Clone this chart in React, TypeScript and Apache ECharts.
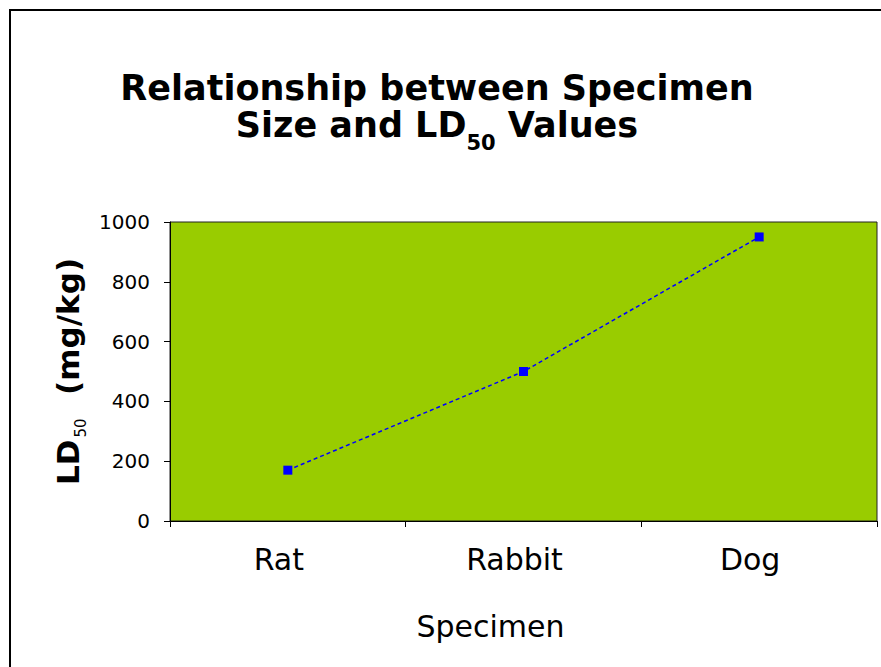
import React, { useEffect, useRef } from "react";
import * as echarts from "echarts";

const categories = ["Rat", "Rabbit", "Dog"];
const ld50Values = [170, 500, 950];
const yTicks = { min: 0, max: 1000, interval: 200 };

const FONT = "'DejaVu Sans', Verdana, sans-serif";

export default function App() {
  const ref = useRef<HTMLDivElement>(null);
  useEffect(() => {
    if (!ref.current) return;
    const chart = echarts.init(ref.current, undefined, { renderer: "svg" });
    chart.setOption({
      animation: false,
      backgroundColor: "#ffffff",
      graphic: [
        {
          type: "rect",
          z: -10,
          silent: true,
          shape: { x: 10, y: 10, width: 900, height: 700 },
          style: { fill: "#ffffff", stroke: "#000000", lineWidth: 2 },
        },
        {
          type: "text",
          x: 437,
          y: 70,
          style: {
            text: "{m|Relationship between Specimen}\n{m|Size and LD}{sub|50}{m| Values}",
            align: "center",
            verticalAlign: "top",
            fill: "#000000",
            fontFamily: FONT,
            fontWeight: "bold",
            fontSize: 35,
            lineHeight: 37,
            rich: {
              m: {
                fontFamily: FONT,
                fontWeight: "bold",
                fontSize: 35,
                lineHeight: 37,
                verticalAlign: "top",
                fill: "#000000",
              },
              sub: {
                fontFamily: FONT,
                fontWeight: "bold",
                fontSize: 21,
                lineHeight: 20,
                verticalAlign: "top",
                padding: [25, 0, 0, 0],
                fill: "#000000",
              },
            },
          },
        },
      ],
      grid: {
        left: 170,
        right: 4,
        top: 222,
        bottom: 146,
        show: true,
        backgroundColor: "#99CC00",
        borderColor: "#222222",
        borderWidth: 1,
      },
      xAxis: {
        type: "category",
        data: categories,
        boundaryGap: true,
        name: "Specimen",
        nameLocation: "middle",
        nameGap: 90,
        nameTextStyle: {
          fontFamily: FONT,
          fontSize: 30,
          color: "#000000",
          padding: [0, 66, 0, 0],
        },
        axisLine: { show: true, lineStyle: { color: "#000000", width: 1 } },
        axisTick: { show: true, length: 6, lineStyle: { color: "#000000" } },
        axisLabel: {
          fontFamily: FONT,
          fontSize: 30,
          color: "#000000",
          margin: 23,
          padding: [0, 18, 0, 0],
        },
        splitLine: { show: false },
      },
      yAxis: {
        type: "value",
        min: yTicks.min,
        max: yTicks.max,
        interval: yTicks.interval,
        name: "{m|LD}{sub|50}{m|  (mg/kg)}",
        nameLocation: "middle",
        nameRotate: 90,
        nameGap: 79,
        nameTextStyle: {
          fontFamily: FONT,
          fontSize: 31,
          fontWeight: "bold",
          color: "#000000",
          rich: {
            m: {
              fontFamily: FONT,
              fontSize: 31,
              fontWeight: "bold",
              lineHeight: 32,
              verticalAlign: "top",
              color: "#000000",
            },
            sub: {
              fontFamily: FONT,
              fontSize: 15,
              fontWeight: "normal",
              lineHeight: 16,
              verticalAlign: "top",
              padding: [21, 2, 0, 2],
              color: "#000000",
            },
          },
        },
        axisLine: { show: true, lineStyle: { color: "#000000", width: 1 } },
        axisTick: { show: true, length: 6, lineStyle: { color: "#000000" } },
        axisLabel: {
          fontFamily: FONT,
          fontSize: 20,
          color: "#000000",
          margin: 20,
          formatter: (v: number) => String(v),
        },
        splitLine: { show: false },
      },
      series: [
        {
          type: "line",
          data: ld50Values,
          symbol: "rect",
          symbolSize: 9,
          itemStyle: { color: "#0000FF" },
          lineStyle: { color: "#0000FF", width: 1.5, type: [4, 3] },
        },
      ],
    });
    return () => chart.dispose();
  }, []);
  return (
    <div
      ref={ref}
      style={{ position: "fixed", left: 0, top: 0, width: 881, height: 667 }}
    />
  );
}
